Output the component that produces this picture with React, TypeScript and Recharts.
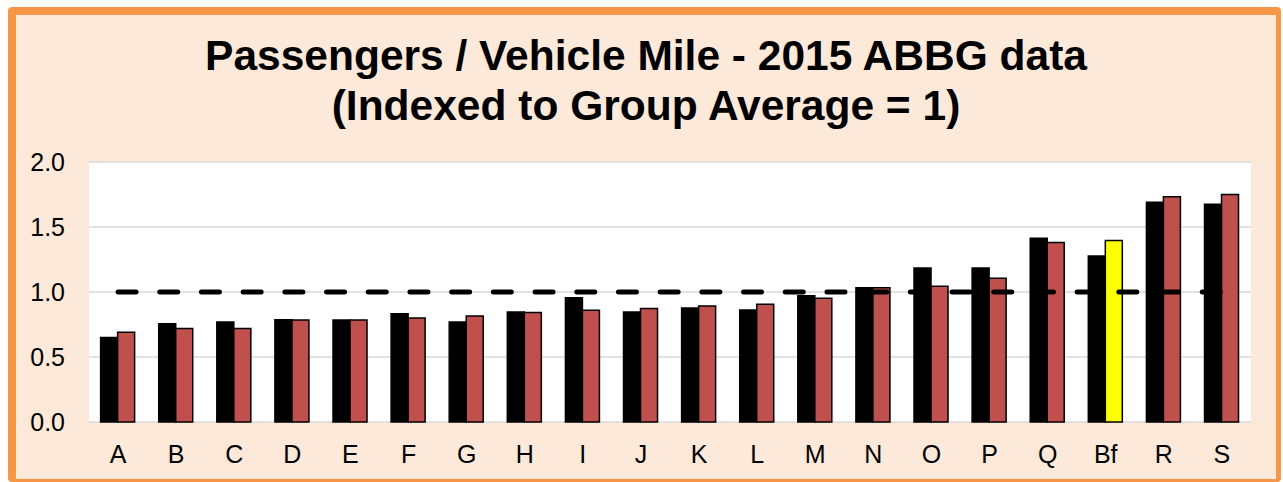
import React from 'react';
import { ComposedChart, Bar, Line, XAxis, YAxis, CartesianGrid, Cell } from 'recharts';

const categories = ['A', 'B', 'C', 'D', 'E', 'F', 'G', 'H', 'I', 'J', 'K', 'L', 'M', 'N', 'O', 'P', 'Q', 'Bf', 'R', 'S'];
const seriesBlack = [0.65, 0.756, 0.77, 0.787, 0.785, 0.833, 0.77, 0.846, 0.956, 0.846, 0.877, 0.862, 0.972, 1.033, 1.185, 1.185, 1.413, 1.277, 1.69, 1.675];
const seriesRed = [0.69, 0.72, 0.72, 0.785, 0.785, 0.8, 0.815, 0.843, 0.86, 0.874, 0.892, 0.905, 0.951, 1.033, 1.044, 1.105, 1.38, 1.397, 1.733, 1.75];
const groupAverage = [1, 1, 1, 1, 1, 1, 1, 1, 1, 1, 1, 1, 1, 1, 1, 1, 1, 1, 1, 1];
const highlightCategory = 'Bf';
const yTicks = [0, 0.5, 1, 1.5, 2];

const titleLines = ['Passengers / Vehicle Mile - 2015 ABBG data', '(Indexed to Group Average = 1)'];

const data = categories.map((c, i) => ({
  name: c,
  black: seriesBlack[i],
  red: seriesRed[i],
  avg: groupAverage[i],
}));

const FONT = '"Liberation Sans", Arial, sans-serif';

export default function App() {
  return (
    <div>
      <div
        style={{
          position: 'absolute',
          left: 8,
          top: 7,
          width: 1273,
          height: 475,
          boxSizing: 'border-box',
          borderStyle: 'solid',
          borderColor: '#F79646',
          borderWidth: '8px 5px 3px 8px',
          borderRadius: 4,
          background: '#FDE9D9',
        }}
      />
      <div
        style={{
          position: 'absolute',
          left: 16,
          top: 31,
          width: 1260,
          textAlign: 'center',
          fontFamily: FONT,
          fontWeight: 'bold',
          fontSize: 42.5,
          lineHeight: '50px',
          color: '#000',
        }}
      >
        {titleLines.map((t) => (
          <div key={t}>{t}</div>
        ))}
      </div>
      <div style={{ position: 'absolute', left: 16, top: 15 }}>
        <ComposedChart
          width={1260}
          height={464}
          data={data}
          margin={{ top: 147, right: 25, bottom: 27, left: 0 }}
          barCategoryGap="20%"
          barGap={0}
        >
          <CartesianGrid vertical={false} stroke="#D9D9D9" strokeWidth={1.5} fill="#FFFFFF" horizontalValues={yTicks} />
          <XAxis
            dataKey="name"
            axisLine={false}
            tickLine={false}
            tickSize={0}
            tickMargin={23}
            interval={0}
            tick={{ fill: '#000', fontSize: 25, fontFamily: FONT }}
          />
          <YAxis
            domain={[0, 2]}
            ticks={yTicks}
            width={73}
            axisLine={false}
            tickLine={false}
            tickSize={0}
            tickMargin={24}
            tickFormatter={(v: number) => v.toFixed(1)}
            tick={{ fill: '#000', fontSize: 25, fontFamily: FONT }}
          />
          <Bar dataKey="black" fill="#000000" stroke="#000000" strokeWidth={1.5} isAnimationActive={false} />
          <Bar dataKey="red" fill="#C0504D" stroke="#000000" strokeWidth={1.5} isAnimationActive={false}>
            {data.map((d) => (
              <Cell key={d.name} fill={d.name === highlightCategory ? '#FFFF00' : '#C0504D'} />
            ))}
          </Bar>
          <Line
            dataKey="avg"
            stroke="#000000"
            strokeWidth={5}
            strokeDasharray="18 23.7"
            strokeLinecap="round"
            dot={false}
            activeDot={false}
            isAnimationActive={false}
          />
        </ComposedChart>
      </div>
    </div>
  );
}
